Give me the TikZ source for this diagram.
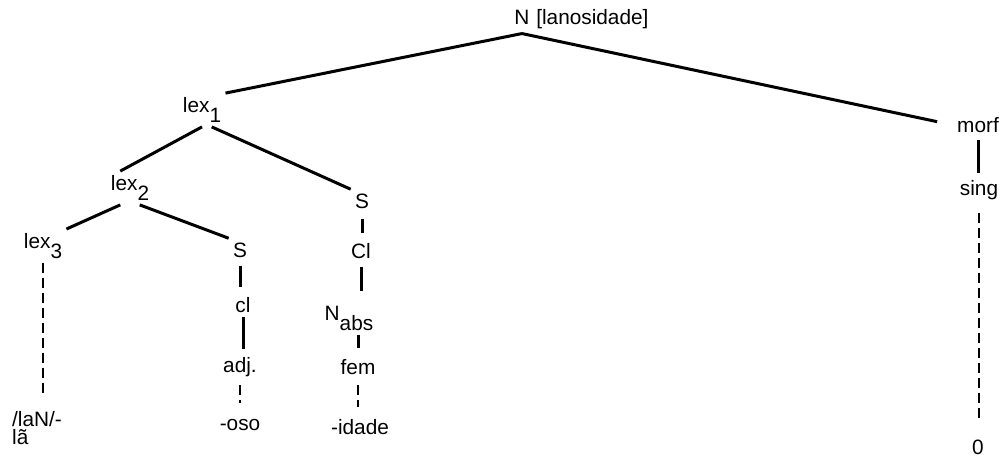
\documentclass[tikz,border=0pt]{standalone}
\usepackage{fontspec}
\setmainfont{Liberation Sans}
\usetikzlibrary{calc}
\usetikzlibrary{positioning}

\newcommand{\lowsub}[1]{\raisebox{-0.9ex}{#1}}

\tikzset{
  word/.style={inner sep=2pt,font=\fontsize{10.4}{12.5}\selectfont},
  branch/.style={line width=1.5pt},
  broken/.style={line width=1.4pt,dash pattern=on 5pt off 2.5pt},
}

\begin{document}
\begin{tikzpicture}[x=0.5pt,y=-0.5pt,every node/.style={word}]
\useasboundingbox (0,0) rectangle (1006,461);
\node [inner ysep=4.5pt] (root) at (522,17) {N};
\node [right=-1pt of root.base east,anchor=base west] (rootlab) {[lanosidade]};
\node (lex1) at (202,110) {lex\lowsub{1}};
\node (lex2) at (130,188) {lex\lowsub{2}};
\node (lex3) at (43,246) {lex\lowsub{3}};
\node (s1) at (362,201) {S};
\node (s2) at (240,250) {S};
\node (cl1) at (361,251) {Cl};
\node (cl2) at (243,305) {cl};
\node (nabs) at (349,318) {N\lowsub{abs}};
\node (fem) at (358,367) {fem};
\node (idade) at (360,427) {-idade};
\node (adj) at (240,367) {adj.};
\node (oso) at (240,425) {-oso};
\node [align=left,font=\fontsize{10.4}{9}\selectfont] (lam) at (37,428) {/laN/-\\lã};
\node (morf) at (978,125) {morf};
\node (sing) at (979,190) {sing};
\node (zero) at (978,447) {0};

\draw [branch] (root.south) -- (lex1.north east);
\draw [branch,shorten >=8pt] (root.south) -- (morf.west);
\draw [branch] (lex1.south) -- (lex2.120);
\draw [branch] (lex1.-60) -- (s1.north west);
\draw [branch] (lex2.-120) -- (lex3.north east);
\draw [branch] (lex2.-60) -- (s2.north west);
\draw [branch,shorten <=3pt,shorten >=3pt] (s1.south) -- (s1.south |- cl1.north);
\draw [branch,shorten <=2pt,shorten >=3pt] (s2.south) -- (s2.south |- cl2.north);
\draw [branch,shorten >=2pt] (cl2.south) -- (cl2.south |- adj.north);
\draw [broken,shorten <=2pt,shorten >=6pt] (adj.south) -- (adj.south |- oso.north);
\draw [branch,shorten <=2pt,shorten >=5pt] (cl1.south) -- (cl1.south |- nabs.north);
\draw [branch,shorten >=3.5pt] (fem.north |- nabs.south) -- (fem.north);
\draw [broken,shorten <=3pt,shorten >=4pt] (fem.south) -- (fem.south |- idade.north);
\draw [broken,shorten >=5pt] (lex3.south) -- (lex3.south |- lam.north);
\draw [branch,shorten <=1.5pt,shorten >=1.5pt] (morf.south) -- (morf.south |- sing.north);
\draw [broken,shorten <=4.5pt,shorten >=6.5pt] (sing.south) -- (sing.south |- zero.north);
\end{tikzpicture}
\end{document}
